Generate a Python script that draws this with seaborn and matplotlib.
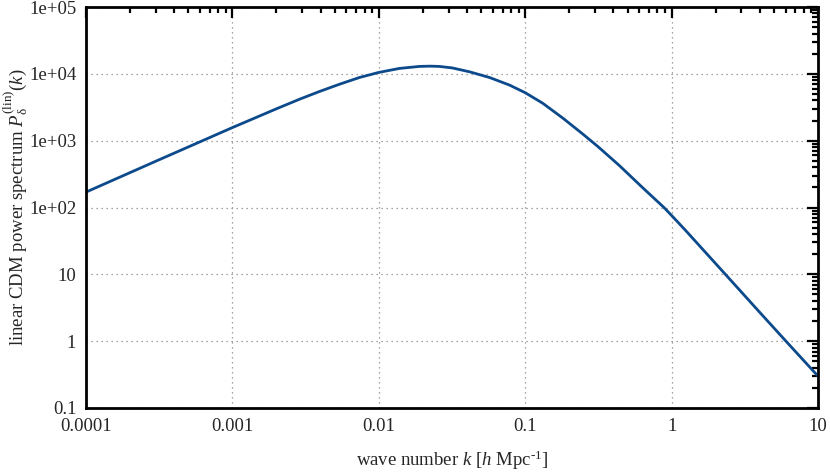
import matplotlib
matplotlib.use("Agg")
import matplotlib.pyplot as plt
from matplotlib.ticker import LogLocator, FixedLocator, FixedFormatter, NullFormatter
import seaborn as sns
import pandas as pd

# wave number k [h/Mpc] and linear power spectrum
k_vals = [1e-4, 3e-4, 1e-3, 2e-3, 2.89e-3, 3.95e-3, 5.41e-3, 7.4e-3, 1e-2,
          1.384e-2, 1.892e-2, 2.24e-2, 2.59e-2, 3.18e-2, 4.17e-2, 5.71e-2,
          7.82e-2, 0.1, 0.132, 0.181, 0.247, 0.313, 0.44, 0.631, 0.887,
          1.0, 1.245, 2.33, 4.0, 6.04, 10.0]
p_vals = [170, 493, 1570, 3000, 4190, 5460, 7010, 8830, 10500,
          12050, 12910, 13030, 12910, 12250, 10720, 8810,
          6780, 5220, 3620, 2170, 1260, 820, 424, 200, 100,
          76, 45.5, 10, 2.7, 1.0, 0.30]

x_ticks = [1e-4, 1e-3, 1e-2, 1e-1, 1, 10]
x_labels = ["0.0001", "0.001", "0.01", "0.1", "1", "10"]
y_ticks = [0.1, 1, 10, 1e2, 1e3, 1e4, 1e5]
y_labels = ["0.1", "1", "10", "1e+02", "1e+03", "1e+04", "1e+05"]

sns.set_theme(style="white")
plt.rcParams['font.family'] = ['Liberation Serif', 'DejaVu Serif']
plt.rcParams['mathtext.fontset'] = 'custom'
plt.rcParams['mathtext.rm'] = 'Liberation Serif'
plt.rcParams['mathtext.it'] = 'Liberation Serif:italic'

df = pd.DataFrame({"k": k_vals, "P": p_vals})

fig = plt.figure(figsize=(8.3, 4.74), dpi=100)
ax = fig.add_axes([86 / 830, 1 - 408 / 474, 732 / 830, 401 / 474])
sns.lineplot(data=df, x="k", y="P", ax=ax, color="#0c4a8b", linewidth=2.0)

ax.set_xscale("log")
ax.set_yscale("log")
ax.set_xlim(1e-4, 10)
ax.set_ylim(0.1, 1e5)

ax.xaxis.set_major_locator(FixedLocator(x_ticks))
ax.xaxis.set_major_formatter(FixedFormatter(x_labels))
ax.yaxis.set_major_locator(FixedLocator(y_ticks))
ax.yaxis.set_major_formatter(FixedFormatter(y_labels))
ax.xaxis.set_minor_locator(LogLocator(base=10, subs=range(2, 10), numticks=20))
ax.yaxis.set_minor_locator(LogLocator(base=10, subs=range(2, 10), numticks=20))
ax.xaxis.set_minor_formatter(NullFormatter())
ax.yaxis.set_minor_formatter(NullFormatter())

ax.tick_params(which="both", direction="in", top=True, right=True,
               color="black", width=1.6)
ax.tick_params(which="major", length=8, labelsize=13.5, pad=7)
ax.tick_params(which="minor", length=4.5)

for sp in ax.spines.values():
    sp.set_linewidth(2)
    sp.set_color("black")

ax.grid(True, which="major", linestyle=(0, (1, 3)), color="#888888", linewidth=0.9)

ax.set_xlabel(r"wave number $k$ [$h$ Mpc$^{\text{-1}}$]", fontsize=13.5, labelpad=10)
ax.set_ylabel(r"linear CDM power spectrum $P_{\mathrm{δ}}^{\mathrm{(lin)}}(k)$", fontsize=13.5)
ax.yaxis.set_label_coords(-0.077, 0.5)

fig.savefig("out.png", dpi=100)
